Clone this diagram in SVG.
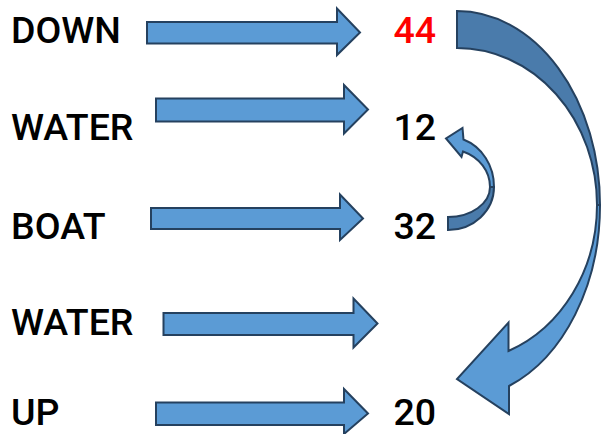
<svg xmlns="http://www.w3.org/2000/svg" width="601" height="434" viewBox="0 0 601 434">
  <style>
    .lbl { font-family: Roboto, "Liberation Sans", sans-serif; font-weight: 500; font-size: 37.5px; fill: #000000; }
    .red { fill: #ff0000; }
    .arrow { fill: #5b9bd5; stroke: #25415f; stroke-width: 2; stroke-linejoin: miter; }
    .shade { fill: #4a7bab; stroke: #25415f; stroke-width: 2; stroke-linejoin: miter; }
  </style>

  <!-- word column -->
  <g id="word-down"><text class="lbl" x="11" y="43">DOWN</text></g>
  <g id="word-water-1"><text class="lbl" x="11" y="140">WATER</text></g>
  <g id="word-boat"><text class="lbl" x="11" y="239">BOAT</text></g>
  <g id="word-water-2"><text class="lbl" x="11" y="335">WATER</text></g>
  <g id="word-up"><text class="lbl" x="11" y="425">UP</text></g>

  <!-- number column -->
  <g id="num-44"><text class="lbl red" x="393.5" y="43">44</text></g>
  <g id="num-12"><text class="lbl" x="393.5" y="140">12</text></g>
  <g id="num-32"><text class="lbl" x="393.5" y="239">32</text></g>
  <g id="num-20"><text class="lbl" x="393.5" y="425">20</text></g>

  <g id="connectors">
    <!-- straight block arrows -->
    <path class="arrow" d="M147,22 H337 V8.5 L360,32.5 L337,55 V43.5 H147 Z"/>
    <path class="arrow" d="M156,98.5 H344 V85 L368,109.5 L344,133.5 V121.5 H156 Z"/>
    <path class="arrow" d="M151,208 H340 V194.5 L363,218.5 L340,240 V229 H151 Z"/>
    <path class="arrow" d="M163.5,313 H353.5 V298.5 L377.5,323.5 L353.5,347.5 V335 H163.5 Z"/>
    <path class="arrow" d="M156,402.5 H344 V389 L368,413.5 L344,434 V425 H156 Z"/>

    <!-- large curved arrow: 44 down to 20 -->
    <path class="shade" d="M457,11 A143,194 0 0 1 600,205 L597,205 A140,157 0 0 0 457,48 Z"/>
    <path class="arrow" d="M600,205 A143,194 0 0 1 509,386 L509,414 L457,379 L508.5,322.5 L508.5,351 A140,157 0 0 0 597,205 Z"/>

    <!-- small curved arrow: 32 up to 12 -->
    <path class="shade" d="M448,230 A46,43 0 0 0 494,187 L490,187 A42,30 0 0 1 448,217 Z"/>
    <path class="arrow" d="M494,187 A46,50 0 0 0 463.5,139.5 L462.5,128 L446,138.5 L461.5,157 L463,151.5 A42,38 0 0 1 490,187 Z"/>
  </g>
</svg>
